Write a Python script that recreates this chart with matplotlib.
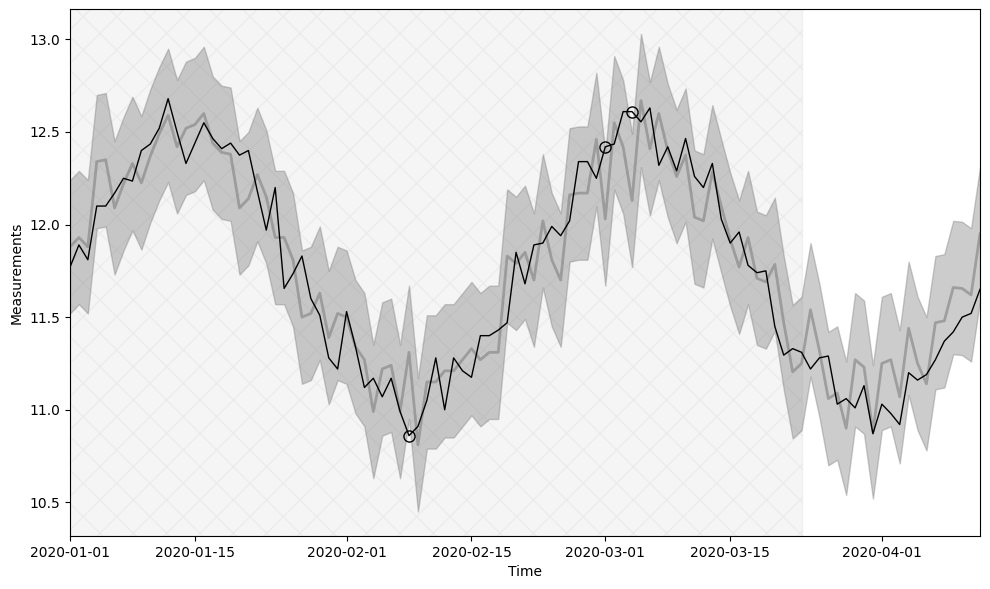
import numpy as np
import pandas as pd
import matplotlib
matplotlib.use("Agg")
import matplotlib.pyplot as plt

# daily timestamps
dates = pd.date_range("2020-01-01", periods=103, freq="D")
train_end = pd.Timestamp("2020-03-23")

# observed measurements
observed = [
    11.77, 11.89, 11.81, 12.10, 12.10, 12.17, 12.25, 12.235, 12.40, 12.435,
    12.52, 12.68, 12.50, 12.33, 12.44, 12.55, 12.465, 12.41, 12.44, 12.375,
    12.40, 12.18, 11.97, 12.20, 11.655, 11.735, 11.83, 11.60, 11.51, 11.28,
    11.22, 11.53, 11.34, 11.12, 11.17, 11.07, 11.17, 10.99, 10.86, 10.91,
    11.05, 11.28, 11.00, 11.28, 11.21, 11.175, 11.40, 11.40, 11.43, 11.47,
    11.85, 11.68, 11.89, 11.90, 11.99, 11.94, 12.02, 12.34, 12.34, 12.25,
    12.42, 12.435, 12.61, 12.61, 12.555, 12.63, 12.32, 12.42, 12.29, 12.465,
    12.26, 12.20, 12.33, 12.03, 11.90, 11.96, 11.78, 11.74, 11.75, 11.45,
    11.295, 11.33, 11.31, 11.22, 11.28, 11.29, 11.03, 11.06, 11.01, 11.13,
    10.87, 11.03, 10.98, 10.92, 11.20, 11.16, 11.19, 11.27, 11.37, 11.42,
    11.50, 11.52, 11.65,
]

# model prediction (mean of the band)
predicted = [
    11.88, 11.93, 11.88, 12.34, 12.35, 12.09, 12.22, 12.33, 12.225, 12.37,
    12.49, 12.59, 12.42, 12.52, 12.54, 12.60, 12.44, 12.39, 12.38, 12.09,
    12.14, 12.27, 12.15, 11.93, 11.93, 11.81, 11.50, 11.52, 11.63, 11.39,
    11.52, 11.50, 11.34, 11.27, 10.99, 11.22, 11.24, 10.99, 11.31, 10.81,
    11.15, 11.15, 11.21, 11.21, 11.27, 11.33, 11.27, 11.31, 11.31, 11.83,
    11.79, 11.85, 11.70, 12.02, 11.81, 11.70, 12.16, 12.17, 12.17, 12.46,
    12.03, 12.55, 12.42, 12.13, 12.67, 12.41, 12.60, 12.40, 12.26, 12.375,
    12.04, 12.02, 12.285, 12.10, 11.92, 11.77, 11.93, 11.71, 11.69, 11.785,
    11.47, 11.205, 11.25, 11.54, 11.32, 11.06, 11.09, 10.90, 11.27, 11.23,
    10.88, 11.25, 11.27, 11.07, 11.44, 11.25, 11.14, 11.47, 11.48, 11.66,
    11.655, 11.62, 11.95,
]
band_halfwidth = 0.36

# flagged anomalies
anomaly_dates = ["2020-02-08", "2020-03-01", "2020-03-04"]

observed = np.array(observed)
predicted = np.array(predicted)
anom_idx = [dates.get_loc(pd.Timestamp(d)) for d in anomaly_dates]

fig = plt.figure(figsize=(9.9, 5.89), dpi=100)
ax = fig.add_subplot(111)

ax.axvspan(dates[0], train_end, color="gray", alpha=0.08, hatch="x")
ax.fill_between(dates, predicted - band_halfwidth, predicted + band_halfwidth,
                color="gray", alpha=0.4)
ax.plot(dates, predicted, color="gray", alpha=0.6, lw=2)
ax.plot(dates, observed, "k-", lw=1)
ax.plot(dates[anom_idx], observed[anom_idx], "o", mfc="none", mec="k", ms=8)

ax.set_xlim(dates[0], dates[-1])
ax.set_ylim(10.318, 13.162)
ax.set_xlabel("Time")
ax.set_ylabel("Measurements")

fig.subplots_adjust(left=0.0707, right=0.9899, top=0.984, bottom=0.09)
fig.savefig("out.png")
